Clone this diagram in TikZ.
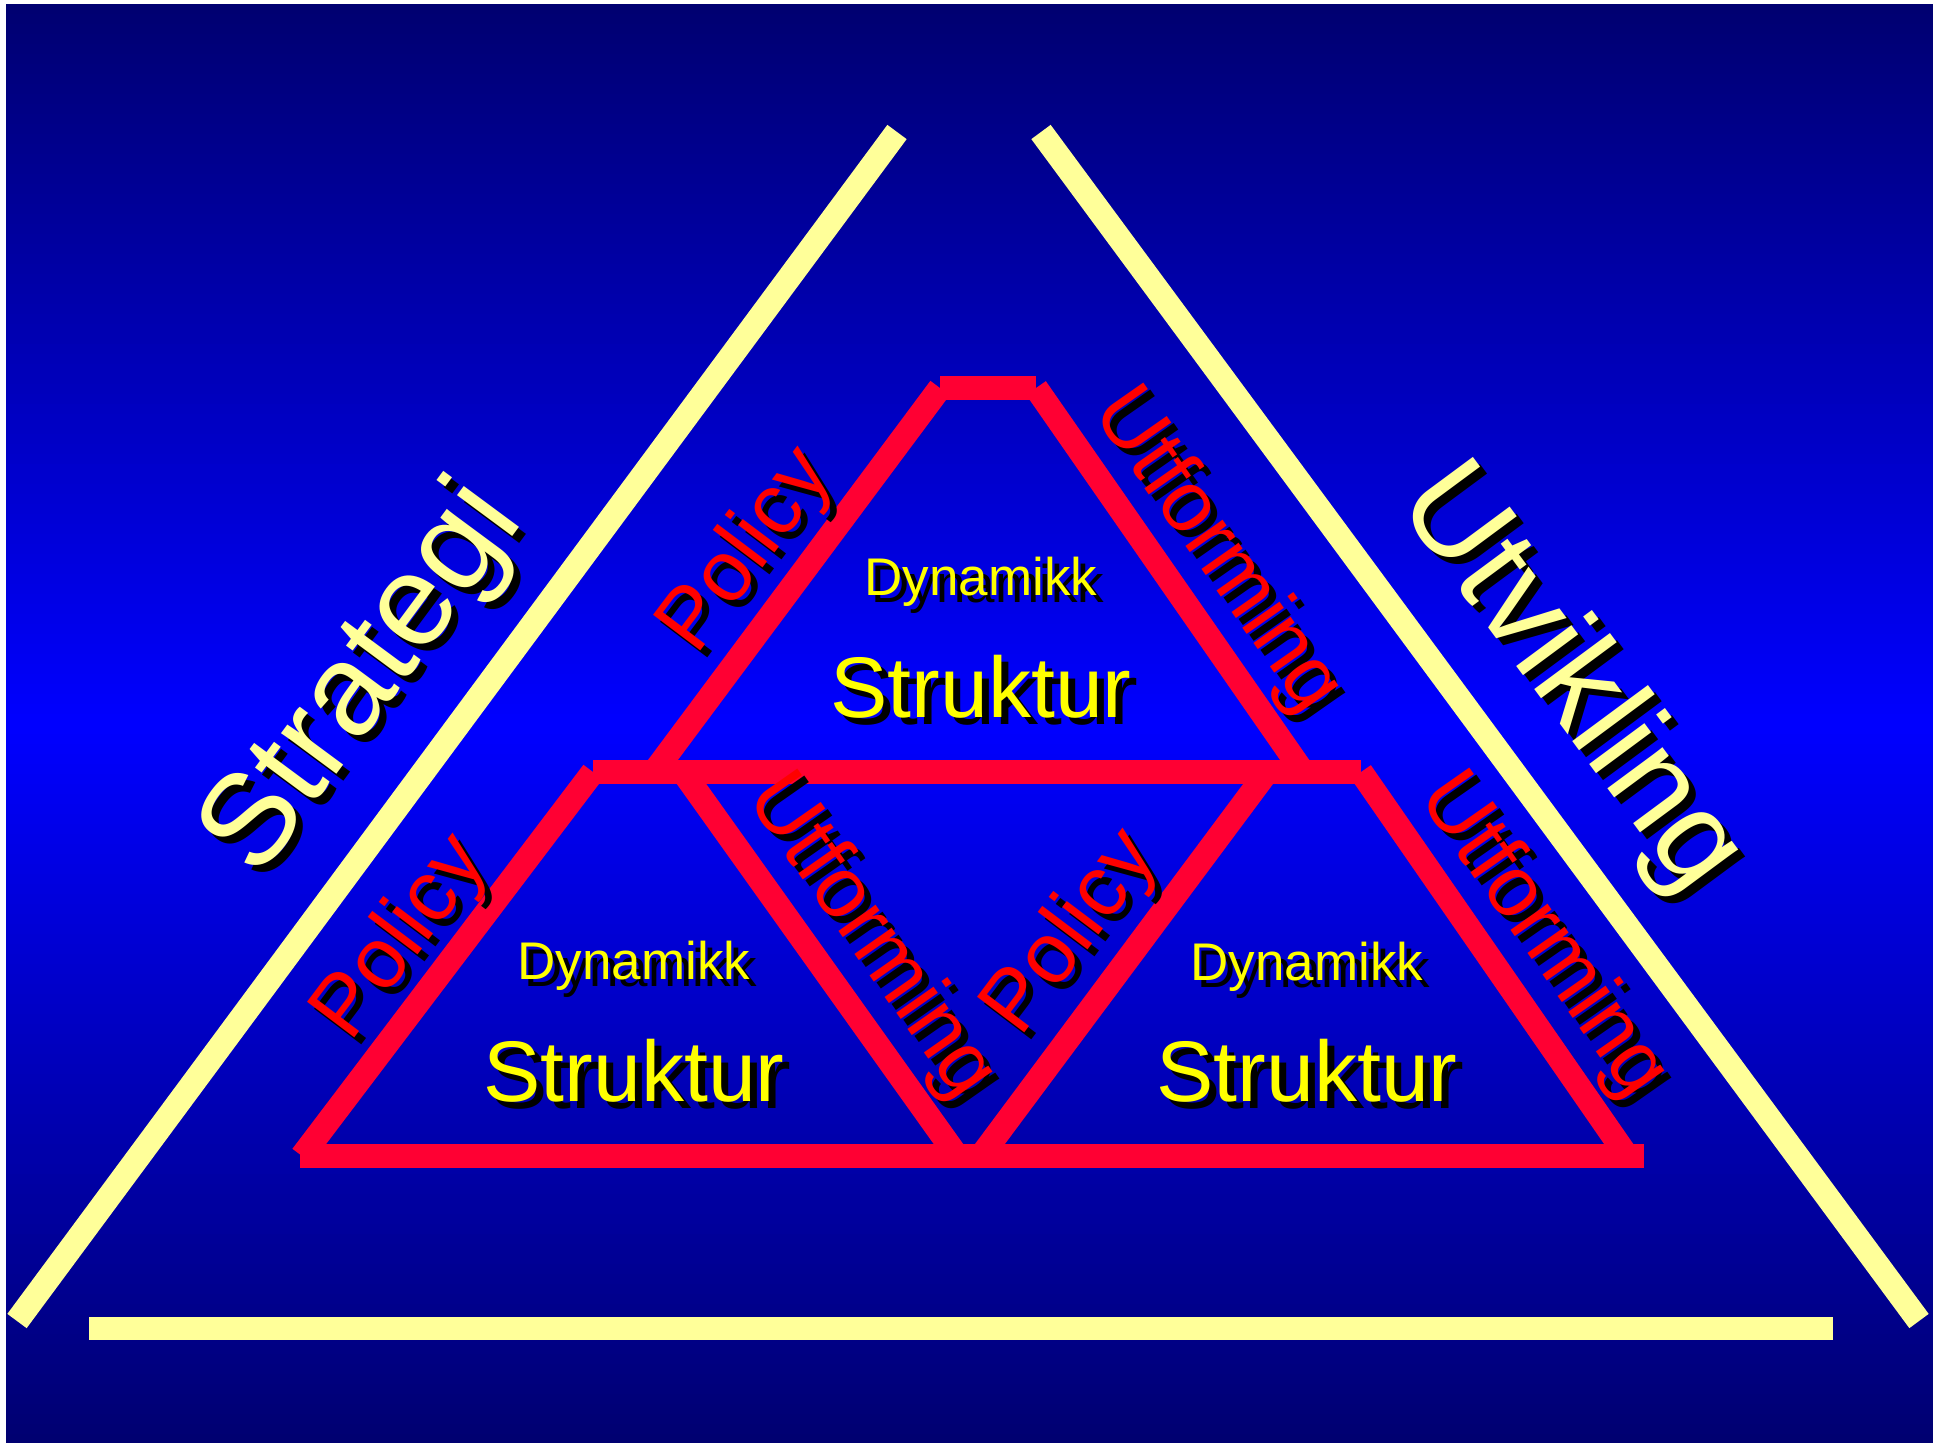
\documentclass[tikz,border=0pt]{standalone}
\usepackage{fontspec}
\setmainfont{Liberation Sans}
\definecolor{navy}{RGB}{0,0,112}
\definecolor{brightblue}{RGB}{0,0,255}
\definecolor{paleyellow}{RGB}{255,255,153}
\definecolor{crimson}{RGB}{255,0,51}
\definecolor{txtred}{RGB}{255,0,0}
\definecolor{txtyellow}{RGB}{255,255,0}
\tikzset{
  yline/.style={draw=paleyellow, line width=24pt},
  rline/.style={draw=crimson, line width=24pt},
  txt/.style={inner sep=0pt, outer sep=0pt, anchor=base},
}
% #1 name, #2 position x,y, #3 angle, #4 size, #5 colour, #6 text
\newcommand\shtext[6]{%
  \node[xshift=7pt, yshift=-7pt, txt, text=black, rotate=#3, font=\fontsize{#4}{#4}\selectfont] (#1-sh) at (#2) {#6};
  \node[txt, text=#5, rotate=#3, font=\fontsize{#4}{#4}\selectfont] (#1) at (#2) {#6};}
\begin{document}
\begin{tikzpicture}[x=1pt,y=-1pt]
\useasboundingbox (0,0) rectangle (1933,1443);
\fill[white] (0,0) rectangle (1933,1443);
% background gradient: navy - bright blue - navy
\foreach \i in {0,...,143} {
  \pgfmathsetmacro\ya{4+\i*10}
  \pgfmathsetmacro\yb{min(\ya+10.6,1443)}
  \pgfmathsetmacro\p{100*(1-abs(\ya+5-723.5)/719.5)}
  \fill[brightblue!\p!navy] (6,\ya) rectangle (1933,\yb);
}
% yellow frame
\coordinate (yl1) at (897,132);  \coordinate (yl2) at (17,1321);
\coordinate (yr1) at (1041,132); \coordinate (yr2) at (1919,1321);
\coordinate (yb1) at (89,1328);  \coordinate (yb2) at (1833,1328);
\draw[yline] (yl1) -- (yl2);
\draw[yline] (yr1) -- (yr2);
\draw[yline, line width=23pt] (yb1) -- (yb2);
% red structure
\coordinate (t1) at (940,388);  \coordinate (t2) at (1036,388);
\coordinate (tlb) at (654,772); \coordinate (trb) at (1303,772);
\coordinate (m1) at (593,772);  \coordinate (m2) at (1361,772);
\coordinate (llb) at (302,1156);
\coordinate (lrt) at (683,772); \coordinate (lrb) at (957,1156);
\coordinate (rlt) at (1267,772); \coordinate (rlb) at (981,1156);
\coordinate (rrt) at (1361,772); \coordinate (rrb) at (1627,1156);
\coordinate (b1) at (300,1156); \coordinate (b2) at (1644,1156);
\draw[rline] (t1) -- (t2);
\draw[rline] (t1) -- (tlb);
\draw[rline] (t2) -- (trb);
\draw[rline] (m1) -- (m2);
\draw[rline] (m1) -- (llb);
\draw[rline] (lrt) -- (lrb);
\draw[rline] (rlt) -- (rlb);
\draw[rline] (rrt) -- (rrb);
\draw[rline] (b1) -- (b2);
% texts
\shtext{strategi}{391.5,700}{53.5}{130}{paleyellow}{Strategi}
\shtext{utvikling}{1542,700}{-53.5}{130}{paleyellow}{Utvikling}
\shtext{policyT}{765.6,565}{53}{86}{txtred}{Policy}
\shtext{utformT}{1198.5,564.5}{-55}{86}{txtred}{Utforming}
\shtext{policyL}{420,952}{53}{86}{txtred}{Policy}
\shtext{utformM}{852,950}{-55}{86}{txtred}{Utforming}
\shtext{policyR}{1090,947}{53}{86}{txtred}{Policy}
\shtext{utformR}{1524,949}{-55}{86}{txtred}{Utforming}
\shtext{dynT}{981,595.5}{0}{53}{txtyellow}{Dynamikk}
\shtext{dynL}{634,979}{0}{53}{txtyellow}{Dynamikk}
\shtext{dynR}{1307,980}{0}{53}{txtyellow}{Dynamikk}
\shtext{strT}{981,717.5}{0}{86}{txtyellow}{Struktur}
\shtext{strL}{634,1101.5}{0}{86}{txtyellow}{Struktur}
\shtext{strR}{1307,1101}{0}{86}{txtyellow}{Struktur}
\end{tikzpicture}
\end{document}
